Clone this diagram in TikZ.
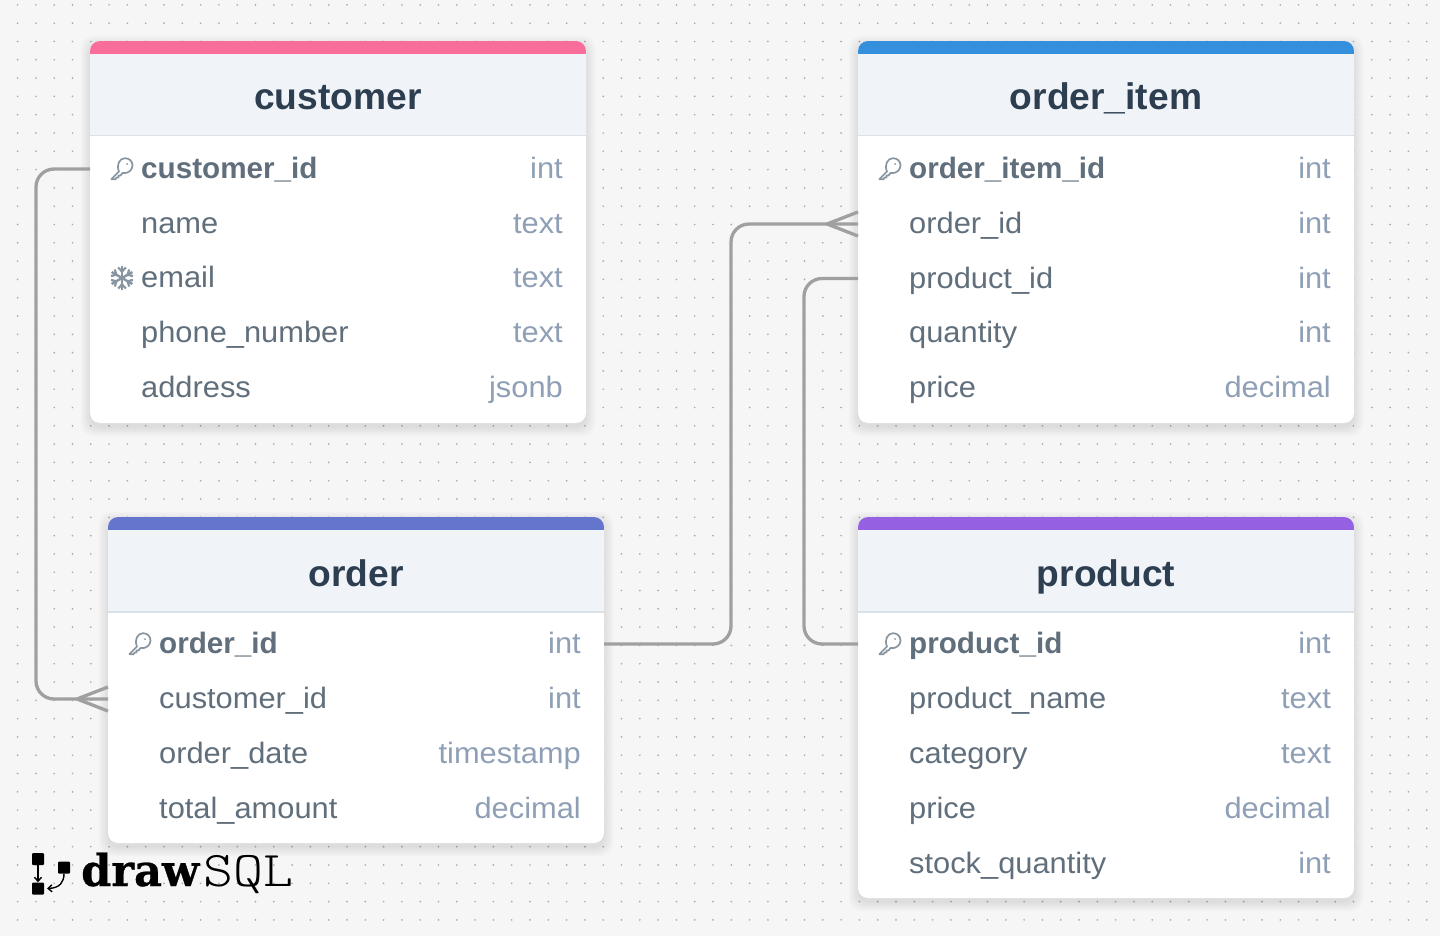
\documentclass[tikz,border=0pt]{standalone}
\usepackage{fontspec}
\setmainfont{Liberation Sans}[FakeStretch=1.045,BoldFeatures={FakeStretch=1.005}]
\newfontfamily\logobold{DejaVu Serif}[FakeStretch=0.98,BoldFont={DejaVu Serif Bold},BoldFeatures={FakeBold=0.6}]
\newfontfamily\logosql{Latin Modern Mono Light}[FakeStretch=1.14]
\usetikzlibrary{calc,arrows.meta}
\definecolor{pagebg}{HTML}{F6F6F6}
\definecolor{griddot}{HTML}{ABABAB}
\definecolor{headbg}{HTML}{F0F4F9}
\definecolor{headline}{HTML}{DAE1E7}
\definecolor{titlecol}{HTML}{2D3E50}
\definecolor{fieldcol}{HTML}{606F7B}
\definecolor{typecol}{HTML}{8F9FB5}
\definecolor{iconcol}{HTML}{8795A1}
\definecolor{linkcol}{HTML}{A0A0A0}
\definecolor{pinkbar}{HTML}{F96D9B}
\definecolor{bluebar}{HTML}{3490DC}
\definecolor{indigobar}{HTML}{6574CD}
\definecolor{purplebar}{HTML}{9561E2}
\tikzset{
  x=1pt,y=-1pt,
  rowbox/.style={rectangle,inner sep=0pt,outer sep=0pt,minimum width=496pt,minimum height=54pt},
  fieldtext/.style={inner sep=0pt,anchor=base west,text=fieldcol,font=\fontsize{29.5}{31}\selectfont},
  keytext/.style={fieldtext,font=\fontsize{29.5}{31}\selectfont\bfseries},
  typetext/.style={inner sep=0pt,anchor=base east,text=typecol,font=\fontsize{29.5}{31}\selectfont},
  titletext/.style={inner sep=0pt,anchor=base,text=titlecol,font=\fontsize{37}{40}\selectfont\bfseries},
  link/.style={draw=linkcol,line width=3.3pt,line join=round},
  logoblock/.style={rectangle,fill=black,inner sep=0pt,minimum width=12pt,minimum height=12pt,rounded corners=1pt},
}
% #1 name, #2 left, #3 top, #4 bottom, #5 bar colour, #6 title
\newcommand{\ercard}[6]{%
  \foreach \s in {9,7,5,3,1}{\fill[black,opacity=0.02,rounded corners=12pt]
    (#2-\s,#3+4-\s) rectangle (#2+496+\s,#4+4+\s);}
  \fill[white,rounded corners=10pt] (#2,#3) rectangle (#2+496,#4);
  \begin{scope}
    \clip[rounded corners=10pt] (#2,#3) rectangle (#2+496,#4);
    \fill[#5] (#2,#3) rectangle (#2+496,#3+13);
    \fill[headbg] (#2,#3+13) rectangle (#2+496,#3+94);
    \fill[headline] (#2,#3+94) rectangle (#2+496,#3+95.5);
  \end{scope}
  \node[titletext] (#1) at (#2+248,#3+69) {#6};
}
% #1 name, #2 left, #3 centre y, #4 field, #5 type, #6 style
\newcommand{\errow}[6]{%
  \node[rowbox] (#1) at (#2+248,#3) {};
  \node[#6] (#1-n) at (#2+51,#3+9.5) {#4};
  \node[typetext] (#1-t) at (#2+473,#3+9.5) {#5};
}
\newcommand{\keyicon}[2]{%
  \begin{scope}[shift={(#1,#2)}]
    \draw[iconcol,line width=1.7pt,line join=round,line cap=round]
      (-3,2.5) -- (-10.5,10) -- (-10.5,10.3) -- (-6.5,10.3) -- (-5.5,8.5) -- (-3.5,8.5) -- (-3.5,6.5) -- (-1.5,6.5)
      -- (0.5,4) .. controls (6,5) and (10.5,1) .. (10.5,-3.5)
      .. controls (10.5,-8) and (7,-10.8) .. (3,-10.8)
      .. controls (-2.5,-10.8) and (-6,-4) .. (-3,2.5) -- cycle;
    \fill[iconcol] (5,-5) circle (1);
  \end{scope}}
\newcommand{\flakeicon}[2]{%
  \begin{scope}[shift={(#1,#2)}]
    \foreach \a in {30,90,...,330}{
      \begin{scope}[rotate=\a]
        \draw[iconcol,line width=2.4pt] (0,0) -- (12,0);
        \draw[iconcol,line width=2.2pt] (10.5,-3.8) -- (6.5,0) -- (10.5,3.8);
      \end{scope}}
  \end{scope}}
\begin{document}
\begin{tikzpicture}
\useasboundingbox (0,0) rectangle (1440,936);
\fill[pagebg] (0,0) rectangle (1440,936);
\foreach \i in {0,...,78}{\foreach \j in {0,...,50}{
  \fill[griddot] (17.6+\i*18.3,4.9+\j*18.3) circle (0.95);}}

\ercard{customer}{90}{41}{423}{pinkbar}{customer}
\errow{cid}{90}{169}{customer\_id}{int}{keytext}
\errow{cname}{90}{224}{name}{text}{fieldtext}
\errow{cemail}{90}{278}{email}{text}{fieldtext}
\errow{cphone}{90}{333}{phone\_number}{text}{fieldtext}
\errow{caddr}{90}{388}{address}{jsonb}{fieldtext}
\keyicon{122}{169}
\flakeicon{122}{278}

\ercard{orderitem}{858}{41}{423}{bluebar}{order\_item}
\errow{iid}{858}{169}{order\_item\_id}{int}{keytext}
\errow{iorder}{858}{224}{order\_id}{int}{fieldtext}
\errow{iprod}{858}{278.5}{product\_id}{int}{fieldtext}
\errow{iqty}{858}{333}{quantity}{int}{fieldtext}
\errow{iprice}{858}{388}{price}{decimal}{fieldtext}
\keyicon{890}{169}

\ercard{order}{108}{517}{843}{indigobar}{order}
\errow{oid}{108}{644}{order\_id}{int}{keytext}
\errow{ocust}{108}{699}{customer\_id}{int}{fieldtext}
\errow{odate}{108}{754}{order\_date}{timestamp}{fieldtext}
\errow{ototal}{108}{809}{total\_amount}{decimal}{fieldtext}
\keyicon{140}{644}

\ercard{product}{858}{517}{898}{purplebar}{product}
\errow{pid}{858}{644}{product\_id}{int}{keytext}
\errow{pname}{858}{699}{product\_name}{text}{fieldtext}
\errow{pcat}{858}{754}{category}{text}{fieldtext}
\errow{pprice}{858}{809}{price}{decimal}{fieldtext}
\errow{pstock}{858}{864}{stock\_quantity}{int}{fieldtext}
\keyicon{890}{644}

% connectors
\draw[link,rounded corners=18pt] (cid.west) -- ++(-54,0) |- (ocust.west);
\draw[link] ($(ocust.west)+(-31,0)$) -- ($(ocust.west)+(0,-12)$);
\draw[link] ($(ocust.west)+(-31,0)$) -- ($(ocust.west)+(0,12)$);
\draw[link,rounded corners=18pt] (oid.east) -- ++(127,0) |- (iorder.west);
\draw[link] ($(iorder.west)+(-31,0)$) -- ($(iorder.west)+(0,-12)$);
\draw[link] ($(iorder.west)+(-31,0)$) -- ($(iorder.west)+(0,12)$);
\draw[link,rounded corners=18pt] (iprod.west) -- ++(-54,0) |- (pid.west);

% logo
\node[logoblock] (lg1) at (38,859) {};
\node[logoblock] (lg2) at (38,888.5) {};
\node[logoblock] (lg3) at (64,867.5) {};
\draw[black,line width=1.4pt,-{Straight Barb[length=4pt,width=7pt]}] (lg1.south) -- (lg2.north);
\draw[black,line width=1.4pt,-{Straight Barb[length=4pt,width=7pt]}] (lg3.south) .. controls (64,882) and (60,888) .. (47,888.5);
\node[inner sep=0pt,anchor=base west,font=\fontsize{44}{48}\selectfont\logobold\bfseries] (lgdraw) at (81,886) {draw};
\node[inner sep=0pt,anchor=base west,font=\fontsize{50}{52}\selectfont\logosql] (lgsql) at (203,886) {SQL};
\end{tikzpicture}
\end{document}
